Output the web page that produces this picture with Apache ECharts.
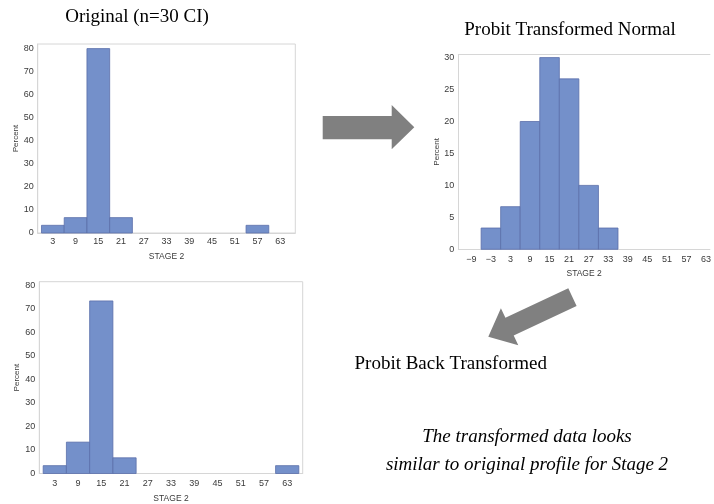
<!DOCTYPE html>
<html>
<head>
<meta charset="utf-8">
<title>Stage 2 histograms</title>
<script src="https://cdn.jsdelivr.net/npm/echarts@6/dist/echarts.min.js"></script>
<style>
  html, body { margin: 0; padding: 0; background: #ffffff; }
  #chart { width: 714px; height: 504px; }
</style>
</head>
<body>
<div id="chart"></div>
<script>
// Histogram bins (bin centre, percent of observations), all bins 6 units wide
const binWidth = 6;

const originalCenters = [3, 9, 15, 21, 57];
const originalPercent = [3.33, 6.67, 80, 6.67, 3.33];

const probitCenters = [-3, 3, 9, 15, 21, 27, 33];
const probitPercent = [3.33, 6.67, 20, 30, 26.67, 10, 3.33];

const backCenters = [3, 9, 15, 21, 63];
const backPercent = [3.33, 13.33, 73.33, 6.67, 3.33];

// Axis tick labels
const stageTicks = [3, 9, 15, 21, 27, 33, 39, 45, 51, 57, 63];
const probitStageTicks = [-9, -3, 3, 9, 15, 21, 27, 33, 39, 45, 51, 57, 63];
const percentTicks80 = [0, 10, 20, 30, 40, 50, 60, 70, 80];
const percentTicks30 = [0, 5, 10, 15, 20, 25, 30];

const BAR_FILL = '#7490ca';
const BAR_EDGE = '#5a6fa9';
const FRAME = '#d6d6d6';
const LABEL = '#3a3a3a';
const SANS = '"Liberation Sans", Arial, sans-serif';
const SERIF = '"Liberation Serif", "Times New Roman", serif';

function pairs(xs, ys) {
  return xs.map((x, i) => [x, ys[i]]);
}

function renderBin(params, api) {
  const c = api.value(0);
  const v = api.value(1);
  const topLeft = api.coord([c - binWidth / 2, v]);
  const bottomRight = api.coord([c + binWidth / 2, 0]);
  return {
    type: 'rect',
    shape: {
      x: topLeft[0],
      y: topLeft[1],
      width: bottomRight[0] - topLeft[0],
      height: bottomRight[1] - topLeft[1]
    },
    style: { fill: BAR_FILL, stroke: BAR_EDGE, lineWidth: 0.8 }
  };
}

function minusSign(v) {
  return String(v).replace('-', '\u2212');
}

function xAxisFor(idx, min, max, ticks, labelMargin, nameGap) {
  return {
    gridIndex: idx,
    type: 'value',
    position: 'bottom',
    min: min,
    max: max,
    name: 'STAGE 2',
    nameLocation: 'middle',
    nameGap: nameGap,
    nameTextStyle: { fontFamily: SANS, fontSize: 8.5, color: LABEL },
    axisLine: { show: true, onZero: false, lineStyle: { color: FRAME, width: 1 } },
    axisTick: { show: false },
    splitLine: { show: false },
    axisLabel: {
      customValues: ticks,
      formatter: minusSign,
      margin: labelMargin,
      fontFamily: SANS,
      fontSize: 9,
      color: LABEL
    }
  };
}

// plain line along the top of a plot frame (used where the frame runs off the page edge)
function topEdgeFor(idx, min, max) {
  return {
    gridIndex: idx,
    type: 'value',
    position: 'top',
    min: min,
    max: max,
    axisLine: { show: true, onZero: false, lineStyle: { color: FRAME, width: 1 } },
    axisTick: { show: false },
    axisLabel: { show: false },
    splitLine: { show: false }
  };
}

function yAxisFor(idx, max, ticks, nameGap) {
  return {
    gridIndex: idx,
    type: 'value',
    min: 0,
    max: max,
    name: 'Percent',
    nameLocation: 'middle',
    nameGap: nameGap,
    nameTextStyle: { fontFamily: SANS, fontSize: 8, color: LABEL },
    axisLine: { show: true, onZero: false, lineStyle: { color: FRAME, width: 1 } },
    axisTick: { show: false },
    splitLine: { show: false },
    axisLabel: {
      customValues: ticks,
      margin: 4,
      fontFamily: SANS,
      fontSize: 9,
      color: LABEL
    }
  };
}

function histSeries(idx, xs, ys) {
  return {
    type: 'custom',
    xAxisIndex: idx,
    yAxisIndex: idx,
    renderItem: renderBin,
    encode: { x: 0, y: 1 },
    data: pairs(xs, ys),
    silent: true
  };
}

const framed = { show: true, borderColor: FRAME, borderWidth: 1, backgroundColor: 'transparent' };

const chart = echarts.init(document.getElementById('chart'), null, { renderer: 'canvas' });

chart.setOption({
  backgroundColor: '#ffffff',
  animation: false,
  grid: [
    Object.assign({ left: 37.7, top: 44, width: 257.6, height: 189 }, framed),
    // this frame runs past the right edge of the page
    { show: false, left: 458.3, top: 54.4, width: 255.7, height: 194.9 },
    Object.assign({ left: 39.3, top: 281.7, width: 263.4, height: 192.8 }, framed)
  ],
  xAxis: [
    xAxisFor(0, -1, 67, stageTicks, 4.5, 18.7),
    xAxisFor(1, -13, 64.2, probitStageTicks, 6, 19.7),
    xAxisFor(2, -1, 67, stageTicks, 5.3, 20.5),
    topEdgeFor(1, -13, 64.2)
  ],
  yAxis: [
    yAxisFor(0, 82, percentTicks80, 17),
    yAxisFor(1, 30.5, percentTicks30, 17.6),
    yAxisFor(2, 81.5, percentTicks80, 18.6)
  ],
  series: [
    histSeries(0, originalCenters, originalPercent),
    histSeries(1, probitCenters, probitPercent),
    histSeries(2, backCenters, backPercent)
  ],
  graphic: [
    {
      type: 'text',
      style: { text: 'Original (n=30 CI)', x: 137, y: 17, font: '19px ' + SERIF, fill: '#000', textAlign: 'center', textVerticalAlign: 'middle' }
    },
    {
      type: 'text',
      style: { text: 'Probit Transformed Normal', x: 570, y: 30, font: '19px ' + SERIF, fill: '#000', textAlign: 'center', textVerticalAlign: 'middle' }
    },
    {
      type: 'text',
      style: { text: 'Probit Back Transformed', x: 354.5, y: 364.5, font: '19px ' + SERIF, fill: '#000', textAlign: 'left', textVerticalAlign: 'middle' }
    },
    {
      type: 'text',
      style: { text: 'The transformed data looks', x: 527, y: 436.5, font: 'italic 19px ' + SERIF, fill: '#000', textAlign: 'center', textVerticalAlign: 'middle' }
    },
    {
      type: 'text',
      style: { text: 'similar to original profile for Stage 2', x: 527, y: 465, font: 'italic 19px ' + SERIF, fill: '#000', textAlign: 'center', textVerticalAlign: 'middle' }
    },
    {
      // arrow pointing right, towards the transformed histogram
      type: 'polygon',
      shape: { points: [[322.7, 116], [391.7, 116], [391.7, 105], [414.3, 127.2], [391.7, 149.3], [391.7, 139.3], [322.7, 139.3]] },
      style: { fill: '#808080' }
    },
    {
      // arrow pointing down-left, towards the back-transformed label
      type: 'polygon',
      shape: { points: [[488.3, 336.7], [518.3, 345.3], [513.7, 335.6], [576.6, 306.0], [568.3, 288.3], [505.4, 317.8], [500.9, 308.2]] },
      style: { fill: '#808080' }
    }
  ]
});
</script>
</body>
</html>
